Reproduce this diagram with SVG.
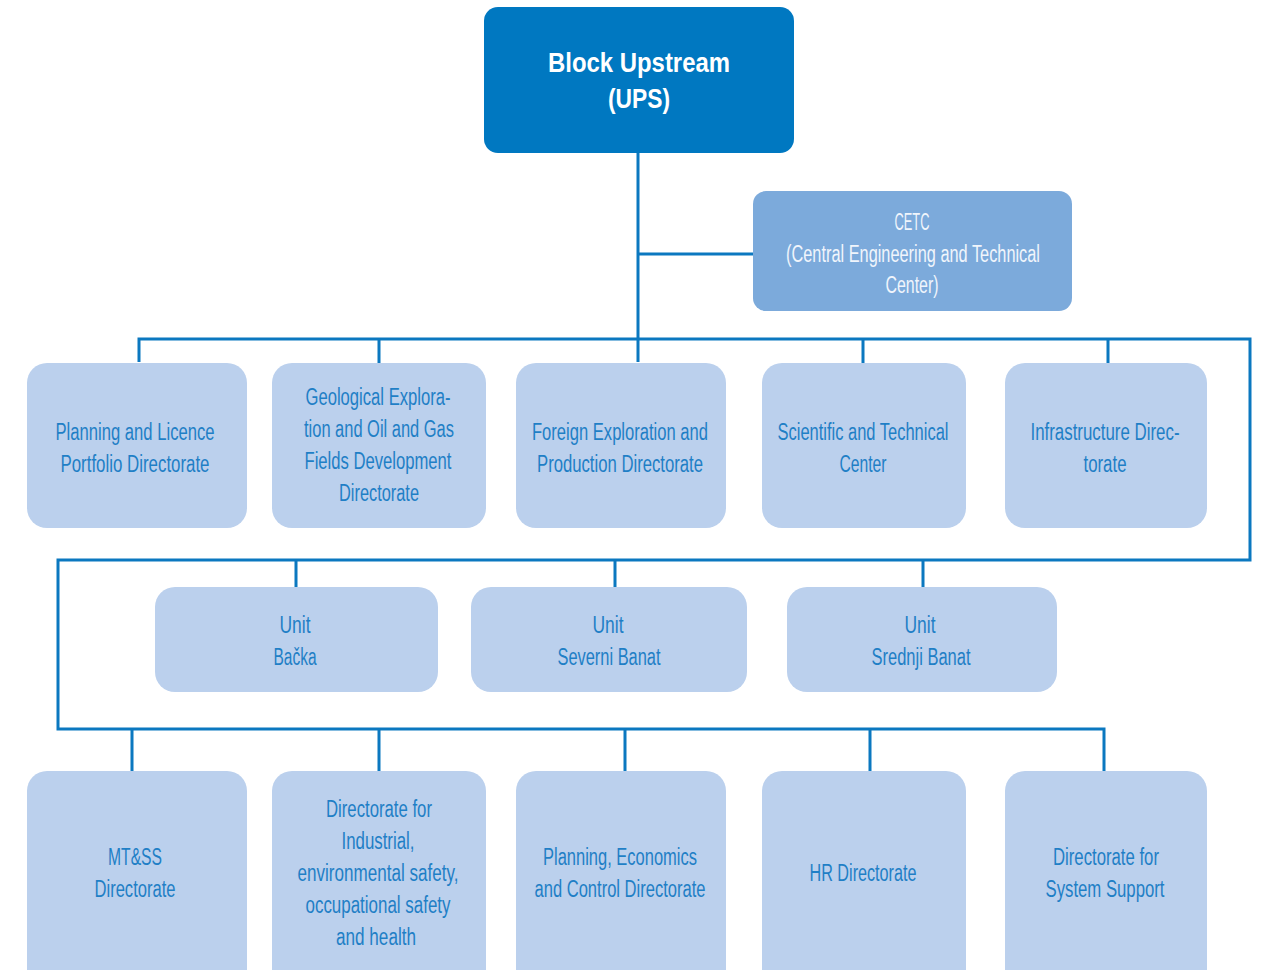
<svg xmlns="http://www.w3.org/2000/svg" width="1261" height="970" viewBox="0 0 1261 970">
<style>
.box{fill:#bbd0ed}
.t{font-family:"Liberation Sans Narrow","Liberation Sans",Arial,sans-serif;font-size:23px;fill:#1f7fc6;text-anchor:middle}
.w{font-family:"Liberation Sans Narrow","Liberation Sans",Arial,sans-serif;font-size:23px;fill:#f0f5fc;text-anchor:middle}
.b{font-family:"Liberation Sans Narrow","Liberation Sans",Arial,sans-serif;font-size:28px;font-weight:bold;fill:#ffffff;text-anchor:middle}
.c{fill:none;stroke:#0b78c0;stroke-width:3}
</style>
<rect width="1261" height="970" fill="#ffffff"/>
<g id="connectors">
<path class="c" d="M638,153 V362 M638,254 H753"/>
<path class="c" d="M139,362 V339 H1250 V560 H58 V729 H1104 V771"/>
<path class="c" d="M379,339 V363 M863,339 V363 M1108,339 V363"/>
<path class="c" d="M296,560 V587 M615,560 V587 M923,560 V587"/>
<path class="c" d="M132,729 V771 M379,729 V771 M625,729 V771 M870,729 V771"/>
</g>
<g id="ups">
<rect x="484" y="7" width="310" height="146" rx="14" fill="#0078c1"/>
<text class="b" x="639" y="72" textLength="182" lengthAdjust="spacingAndGlyphs">Block Upstream</text>
<text class="b" x="639" y="108" textLength="62" lengthAdjust="spacingAndGlyphs">(UPS)</text>
</g>
<g id="cetc">
<rect x="753" y="191" width="319" height="120" rx="13" fill="#7caadb"/>
<text class="w" x="912" y="230" textLength="35" lengthAdjust="spacingAndGlyphs">CETC</text>
<text class="w" x="913" y="262" textLength="254" lengthAdjust="spacingAndGlyphs">(Central Engineering and Technical</text>
<text class="w" x="912" y="293" textLength="53" lengthAdjust="spacingAndGlyphs">Center)</text>
</g>
<g id="planning-licence">
<rect class="box" x="27" y="363" width="220" height="165" rx="20"/>
<text class="t" x="135" y="440" textLength="159" lengthAdjust="spacingAndGlyphs">Planning and Licence</text>
<text class="t" x="135" y="472" textLength="149" lengthAdjust="spacingAndGlyphs">Portfolio Directorate</text>
</g>
<g id="geological">
<rect class="box" x="272" y="363" width="214" height="165" rx="20"/>
<text class="t" x="378" y="405" textLength="145" lengthAdjust="spacingAndGlyphs">Geological Explora-</text>
<text class="t" x="379" y="437" textLength="150" lengthAdjust="spacingAndGlyphs">tion and Oil and Gas</text>
<text class="t" x="378" y="469" textLength="147" lengthAdjust="spacingAndGlyphs">Fields Development</text>
<text class="t" x="379" y="501" textLength="80" lengthAdjust="spacingAndGlyphs">Directorate</text>
</g>
<g id="foreign">
<rect class="box" x="516" y="363" width="210" height="165" rx="20"/>
<text class="t" x="620" y="440" textLength="176" lengthAdjust="spacingAndGlyphs">Foreign Exploration and</text>
<text class="t" x="620" y="472" textLength="166" lengthAdjust="spacingAndGlyphs">Production Directorate</text>
</g>
<g id="scientific">
<rect class="box" x="762" y="363" width="204" height="165" rx="20"/>
<text class="t" x="863" y="440" textLength="171" lengthAdjust="spacingAndGlyphs">Scientific and Technical</text>
<text class="t" x="863" y="472" textLength="47" lengthAdjust="spacingAndGlyphs">Center</text>
</g>
<g id="infrastructure">
<rect class="box" x="1005" y="363" width="202" height="165" rx="20"/>
<text class="t" x="1105" y="440" textLength="149" lengthAdjust="spacingAndGlyphs">Infrastructure Direc-</text>
<text class="t" x="1105" y="472" textLength="43" lengthAdjust="spacingAndGlyphs">torate</text>
</g>
<g id="unit-backa">
<rect class="box" x="155" y="587" width="283" height="105" rx="20"/>
<text class="t" x="295" y="633" textLength="31" lengthAdjust="spacingAndGlyphs">Unit</text>
<text class="t" x="295" y="665" textLength="43" lengthAdjust="spacingAndGlyphs">Bačka</text>
</g>
<g id="unit-severni">
<rect class="box" x="471" y="587" width="276" height="105" rx="20"/>
<text class="t" x="608" y="633" textLength="31" lengthAdjust="spacingAndGlyphs">Unit</text>
<text class="t" x="609" y="665" textLength="103" lengthAdjust="spacingAndGlyphs">Severni Banat</text>
</g>
<g id="unit-srednji">
<rect class="box" x="787" y="587" width="270" height="105" rx="20"/>
<text class="t" x="920" y="633" textLength="31" lengthAdjust="spacingAndGlyphs">Unit</text>
<text class="t" x="921" y="665" textLength="99" lengthAdjust="spacingAndGlyphs">Srednji Banat</text>
</g>
<g id="mtss">
<rect class="box" x="27" y="771" width="220" height="225" rx="20"/>
<text class="t" x="135" y="865" textLength="54" lengthAdjust="spacingAndGlyphs">MT&amp;SS</text>
<text class="t" x="135" y="897" textLength="81" lengthAdjust="spacingAndGlyphs">Directorate</text>
</g>
<g id="industrial-safety">
<rect class="box" x="272" y="771" width="214" height="225" rx="20"/>
<text class="t" x="379" y="817" textLength="106" lengthAdjust="spacingAndGlyphs">Directorate for</text>
<text class="t" x="378" y="849" textLength="73" lengthAdjust="spacingAndGlyphs">Industrial,</text>
<text class="t" x="378" y="881" textLength="161" lengthAdjust="spacingAndGlyphs">environmental safety,</text>
<text class="t" x="378" y="913" textLength="145" lengthAdjust="spacingAndGlyphs">occupational safety</text>
<text class="t" x="376" y="945" textLength="80" lengthAdjust="spacingAndGlyphs">and health</text>
</g>
<g id="planning-economics">
<rect class="box" x="516" y="771" width="210" height="225" rx="20"/>
<text class="t" x="620" y="865" textLength="154" lengthAdjust="spacingAndGlyphs">Planning, Economics</text>
<text class="t" x="620" y="897" textLength="171" lengthAdjust="spacingAndGlyphs">and Control Directorate</text>
</g>
<g id="hr">
<rect class="box" x="762" y="771" width="204" height="225" rx="20"/>
<text class="t" x="863" y="881" textLength="107" lengthAdjust="spacingAndGlyphs">HR Directorate</text>
</g>
<g id="system-support">
<rect class="box" x="1005" y="771" width="202" height="225" rx="20"/>
<text class="t" x="1106" y="865" textLength="106" lengthAdjust="spacingAndGlyphs">Directorate for</text>
<text class="t" x="1105" y="897" textLength="119" lengthAdjust="spacingAndGlyphs">System Support</text>
</g>
</svg>
